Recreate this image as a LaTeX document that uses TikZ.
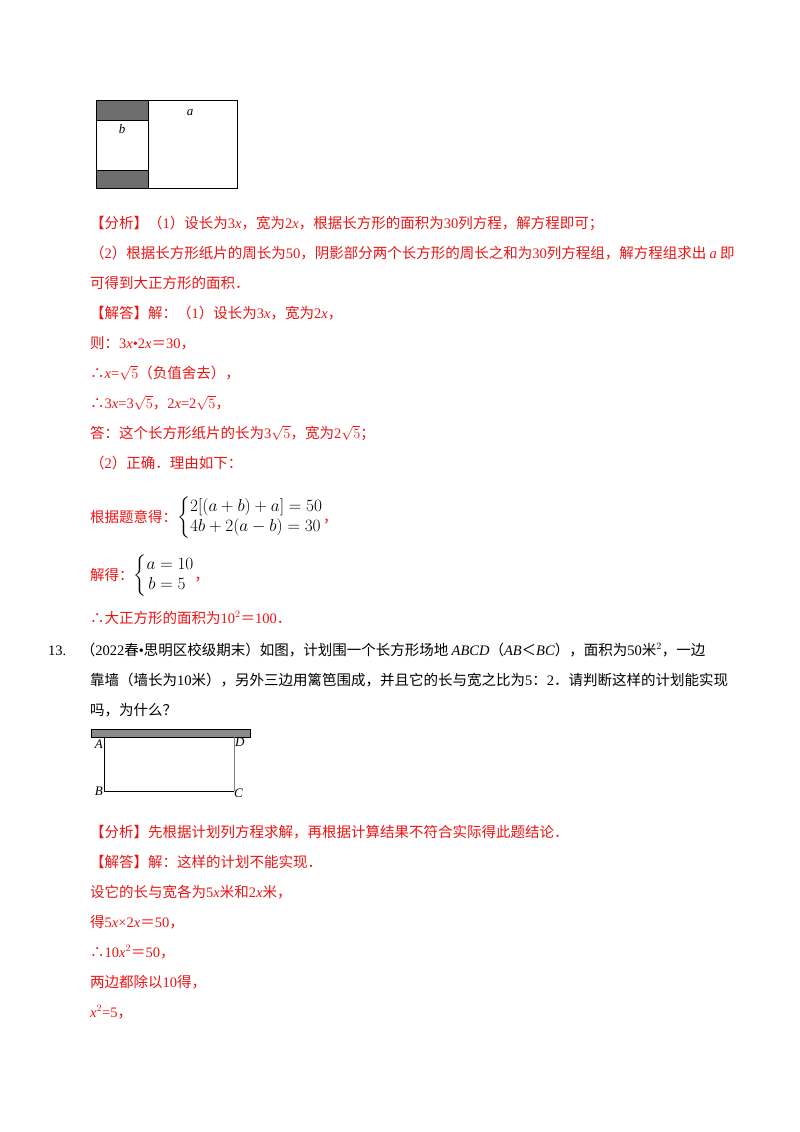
\documentclass[tikz,border=0pt]{standalone}
\usepackage{fontspec}
\setmainfont{Noto Sans CJK SC}
\newfontfamily\lat{Liberation Serif}
\usepackage{amsmath}
\newcommand{\vi}[1]{{\lat\itshape #1}}
\newcommand{\nm}[1]{{\lat #1}}
\definecolor{ans}{RGB}{235,20,20}
\definecolor{shadecol}{RGB}{110,110,110}
\begin{document}
\begin{tikzpicture}[x=1pt,y=-1pt,
  t/.style={anchor=base west,inner sep=0,font=\fontsize{14.5}{16}\selectfont},
  r/.style={t,text=ans},
  k/.style={t,text=black},
  lb/.style={inner sep=0,font=\lat\itshape\fontsize{13}{14}\selectfont}]
\useasboundingbox (0,0) rectangle (800,1132);
% top figure
\fill[shadecol] (96,100) rectangle (148,120);
\fill[shadecol] (96,170) rectangle (148,188);
\draw[thick] (96,100) rectangle (237,188);
\draw[thick] (148,100) -- (148,188);
\draw[thick] (96,120) -- (148,120) (96,170) -- (148,170);
\node[lb] (lb) at (122,129) {b};
\node[lb] (la) at (190,113) {a};
% text
\node[r] (l1) at (90,228) {【分析】（\nm1）设长为\nm{3}\vi{x}，宽为\nm2\vi{x}，根据长方形的面积为\nm{30}列方程，解方程即可；};
\node[r] (l2) at (90,258) {（\nm2）根据长方形纸片的周长为\nm{50}，阴影部分两个长方形的周长之和为\nm{30}列方程组，解方程组求出 \vi{a} 即};
\node[r] (l3) at (90,288) {可得到大正方形的面积．};
\node[r] (l4) at (90,318) {【解答】解：（\nm1）设长为\nm3\vi{x}，宽为\nm2\vi{x}，};
\node[r] (l5) at (90,348) {则：\nm3\vi{x}\nm{•2}\vi{x}＝\nm{30}，};
\node[r] (l6) at (90,378) {∴\vi{x}\nm{=}$\sqrt{5}$（负值舍去），};
\node[r] (l7) at (90,408) {∴\nm3\vi{x}\nm{=3}$\sqrt{5}$，\nm2\vi{x}\nm{=2}$\sqrt{5}$，};
\node[r] (l8) at (90,438) {答：这个长方形纸片的长为\nm3$\sqrt{5}$，宽为\nm2$\sqrt{5}$；};
\node[r] (l9) at (90,468) {（\nm2）正确．理由如下：};
\node[r] (l10) at (90,522) {根据题意得：\textcolor{black}{\fontsize{17}{20}\selectfont$\left\{\begin{aligned}&2[(a+b)+a]=50\\[-3pt]&4b+2(a-b)=30\end{aligned}\right.$}，};
\node[r] (l11) at (90,580) {解得：\textcolor{black}{\fontsize{17}{20}\selectfont$\left\{\begin{aligned}a&=10\\[-3pt]b&=5\end{aligned}\right.$}，};
\node[r] (l12) at (90,623) {∴大正方形的面积为\nm{10}$^{\lat 2}$＝\nm{100}．};
\node[k] (p1) at (48,655) {\nm{13.}\quad（\nm{2022}春\nm•思明区校级期末）如图，计划围一个长方形场地 \vi{ABCD}（\vi{AB}＜\vi{BC}），面积为\nm{50}米$^{\lat 2}$，一边};
\node[k] (p2) at (90,685) {靠墙（墙长为\nm{10}米），另外三边用篱笆围成，并且它的长与宽之比为\nm{5}：\nm{2}．请判断这样的计划能实现};
\node[k] (p3) at (90,715) {吗，为什么？};
% wall figure
\fill[shadecol!80] (91,729) rectangle (250,737);
\draw (91,729) rectangle (250,737);
\draw[thick] (104,737) -- (104,791) -- (234,791);
\draw[gray] (234,737) -- (234,791);
\node[lb,anchor=north east] (A) at (103,740) {A};
\node[lb,anchor=north west] (D) at (235,738) {D};
\node[lb,anchor=east] (B) at (103,791) {B};
\node[lb,anchor=north west] (C) at (234,789) {C};
\node[r] (s1) at (90,837) {【分析】先根据计划列方程求解，再根据计算结果不符合实际得此题结论．};
\node[r] (s2) at (90,867) {【解答】解：这样的计划不能实现．};
\node[r] (s3) at (90,897) {设它的长与宽各为\nm5\vi{x}米和\nm2\vi{x}米，};
\node[r] (s4) at (90,927) {得\nm5\vi{x}\nm{×2}\vi{x}＝\nm{50}，};
\node[r] (s5) at (90,957) {∴\nm{10}\vi{x}$^{\lat 2}$＝\nm{50}，};
\node[r] (s6) at (90,987) {两边都除以\nm{10}得，};
\node[r] (s7) at (90,1017) {\vi{x}$^{\lat 2}$\nm{=5}，};
\end{tikzpicture}
\end{document}
